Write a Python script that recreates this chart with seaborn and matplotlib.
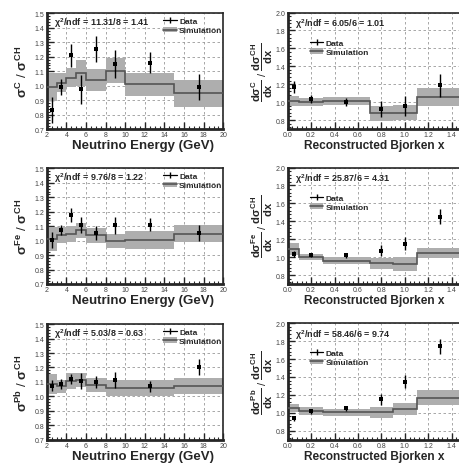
import matplotlib
matplotlib.use("Agg")
import matplotlib.pyplot as plt
from matplotlib.lines import Line2D
from matplotlib.patches import Patch
from matplotlib.ticker import MultipleLocator, FormatStrFormatter
import numpy as np
import seaborn as sns

# ---- data ----
e_edges = [2, 3, 4, 5, 6, 8, 10, 15, 20]
e_centers = [2.5, 3.5, 4.5, 5.5, 7, 9, 12.5, 17.5]
x_edges = [0.0, 0.1, 0.3, 0.7, 0.9, 1.1, 1.5]
x_centers = [0.05, 0.2, 0.5, 0.8, 1.0, 1.3]

c_e_data = [0.83, 0.99, 1.21, 0.975, 1.255, 1.15, 1.16, 0.99]
c_e_err = [0.09, 0.055, 0.08, 0.10, 0.09, 0.10, 0.075, 0.09]
c_e_sim = [0.99, 1.02, 1.055, 1.09, 1.04, 1.105, 1.01, 0.947]
c_e_band = [0.097, 0.067, 0.066, 0.09, 0.078, 0.084, 0.078, 0.093]

fe_e_data = [1.006, 1.071, 1.18, 1.106, 1.053, 1.106, 1.11, 1.053]
fe_e_err = [0.055, 0.035, 0.048, 0.056, 0.046, 0.058, 0.044, 0.058]
fe_e_sim = [1.01, 1.04, 1.048, 1.071, 1.036, 0.998, 1.005, 1.048]
fe_e_band = [0.083, 0.058, 0.055, 0.053, 0.05, 0.05, 0.06, 0.06]

pb_e_data = [1.075, 1.085, 1.12, 1.108, 1.101, 1.113, 1.069, 1.205]
pb_e_err = [0.04, 0.035, 0.035, 0.055, 0.043, 0.055, 0.038, 0.054]
pb_e_sim = [1.085, 1.069, 1.104, 1.113, 1.08, 1.058, 1.058, 1.069]
pb_e_band = [0.067, 0.047, 0.055, 0.051, 0.049, 0.054, 0.054, 0.055]

c_x_data = [1.17, 1.04, 1.0, 0.922, 0.96, 1.187]
c_x_err = [0.07, 0.045, 0.045, 0.09, 0.11, 0.13]
c_x_sim = [1.01, 1.0, 1.012, 0.874, 0.882, 1.059]
c_x_band = [0.055, 0.043, 0.048, 0.083, 0.085, 0.104]

fe_x_data = [1.035, 1.022, 1.02, 1.072, 1.151, 1.453]
fe_x_err = [0.035, 0.025, 0.025, 0.065, 0.07, 0.08]
fe_x_sim = [1.09, 0.997, 0.958, 0.932, 0.925, 1.046]
fe_x_band = [0.07, 0.034, 0.039, 0.06, 0.075, 0.06]

pb_x_data = [0.94, 1.015, 1.051, 1.151, 1.347, 1.741]
pb_x_err = [0.03, 0.025, 0.025, 0.06, 0.07, 0.08]
pb_x_sim = [1.059, 1.022, 1.004, 1.004, 1.04, 1.17]
pb_x_band = [0.045, 0.041, 0.04, 0.06, 0.065, 0.081]

targets = ["C", "Fe", "Pb"]
chi_e = ["11.31/8 = 1.41", "9.76/8 = 1.22", "5.03/8 = 0.63"]
chi_x = ["6.05/6 = 1.01", "25.87/6 = 4.31", "58.46/6 = 9.74"]

# ---- style ----
sns.set_style("ticks")
plt.rcParams["font.family"] = ["Liberation Sans", "DejaVu Sans"]
plt.rcParams["mathtext.fontset"] = "custom"
plt.rcParams["mathtext.rm"] = "Liberation Sans:bold"
plt.rcParams["mathtext.it"] = "Liberation Sans:bold"
plt.rcParams["mathtext.bf"] = "Liberation Sans:bold"

band_color = "#aeaeae"
line_color = "#555555"


def draw_panel(ax, edges, centers, data, err, sim, band):
    sim = np.asarray(sim)
    band = np.asarray(band)
    ax.stairs(sim + band, edges, baseline=sim - band, fill=True,
              color=band_color, lw=0, zorder=2)
    ax.stairs(sim, edges, baseline=None, color=line_color, lw=1.2, zorder=3)
    ax.errorbar(centers, data, yerr=err, fmt="none", ecolor="black",
                elinewidth=1.0, capsize=0, zorder=4)
    sns.scatterplot(x=centers, y=data, ax=ax, marker="s", s=5, color="black",
                    edgecolor="black", linewidth=0, zorder=5, legend=False)


def style_axes(ax, xlim, ylim, xmaj, xmin, ymaj, ymin):
    ax.set_xlim(*xlim)
    ax.set_ylim(*ylim)
    ax.xaxis.set_major_locator(MultipleLocator(xmaj))
    ax.xaxis.set_minor_locator(MultipleLocator(xmin))
    ax.yaxis.set_major_locator(MultipleLocator(ymaj))
    ax.yaxis.set_minor_locator(MultipleLocator(ymin))
    ax.yaxis.set_major_formatter(FormatStrFormatter("%.1f"))
    ax.grid(True, which="major", ls=(0, (3, 3)), color="#999999", lw=0.6)
    ax.tick_params(which="both", direction="in", labelsize=5,
                   labelcolor="#444444", pad=1.5)
    ax.tick_params(which="major", length=5, width=1.0)
    ax.tick_params(which="minor", length=2.5, width=0.8)
    for side in ["left", "bottom"]:
        ax.spines[side].set_linewidth(2.0)
    for side in ["top", "right"]:
        ax.spines[side].set_linewidth(1.2)
        ax.spines[side].set_visible(True)


def add_legend(ax, x, y):
    h_data = Line2D([0], [0], color="black", marker="|", ms=5, mew=1.0, lw=0.9)
    h_sim = (Patch(facecolor=band_color, edgecolor="none"),
             Line2D([0], [0], color=line_color, lw=1.2))
    leg = ax.legend([h_data, h_sim], ["Data", "Simulation"], loc="upper left",
                    bbox_to_anchor=(x, y), frameon=False, fontsize=6,
                    handlelength=1.6, handletextpad=0.3, labelspacing=0.15,
                    borderaxespad=0, borderpad=0)
    for t in leg.get_texts():
        t.set_fontweight("bold")


fig = plt.figure(figsize=(4.6, 4.64), dpi=100)

row_bottoms = [0.7198, 0.3858, 0.0502]
e_sets = [(c_e_data, c_e_err, c_e_sim, c_e_band),
          (fe_e_data, fe_e_err, fe_e_sim, fe_e_band),
          (pb_e_data, pb_e_err, pb_e_sim, pb_e_band)]
x_sets = [(c_x_data, c_x_err, c_x_sim, c_x_band),
          (fe_x_data, fe_x_err, fe_x_sim, fe_x_band),
          (pb_x_data, pb_x_err, pb_x_sim, pb_x_band)]

for i, tgt in enumerate(targets):
    # energy panel
    ax = fig.add_axes([0.1015, row_bottoms[i], 0.384, 0.249])
    draw_panel(ax, e_edges, e_centers, *e_sets[i])
    style_axes(ax, (2, 20), (0.7, 1.5), 2, 0.5, 0.1, 0.02)
    ax.set_xlabel("Neutrino Energy (GeV)", fontsize=9.5, fontweight="bold",
                  ha="right")
    ax.xaxis.set_label_coords(0.945, -0.085)
    ax.set_ylabel(r"$\sigma^{%s}$ / $\sigma^{CH}$" % tgt, fontsize=9.5)
    ax.yaxis.set_label_coords(-0.095, 0.5)
    ax.text(0.04, 0.925, r"$\chi^{2}$/ndf = " + chi_e[i], transform=ax.transAxes,
            fontsize=6.5, fontweight="bold", va="center", ha="left")
    add_legend(ax, 0.66, 0.965)

    # Bjorken x panel
    ax = fig.add_axes([0.6254, row_bottoms[i], 0.382, 0.251])
    draw_panel(ax, x_edges, x_centers, *x_sets[i])
    style_axes(ax, (0, 1.5), (0.7, 2.0), 0.2, 0.04, 0.2, 0.04)
    ax.xaxis.set_major_formatter(FormatStrFormatter("%.1f"))
    ax.set_xlabel("Reconstructed Bjorken x", fontsize=8.6, fontweight="bold",
                  ha="right")
    ax.xaxis.set_label_coords(0.895, -0.085)
    ax.set_ylabel(r"$\dfrac{d\sigma^{%s}}{dx}$ / $\dfrac{d\sigma^{CH}}{dx}$" % tgt,
                  fontsize=8)
    ax.yaxis.set_label_coords(-0.072, 0.5)
    ax.text(0.042, 0.905, r"$\chi^{2}$/ndf = " + chi_x[i], transform=ax.transAxes,
            fontsize=6.5, fontweight="bold", va="center", ha="left")
    add_legend(ax, 0.127, 0.775)

fig.savefig("out.png", dpi=100)
